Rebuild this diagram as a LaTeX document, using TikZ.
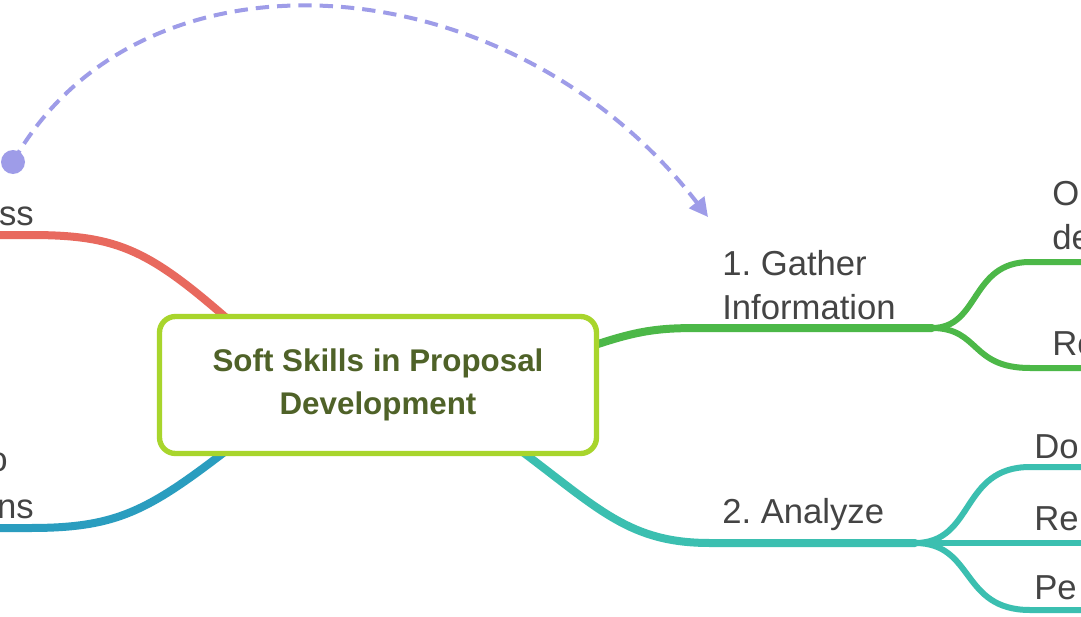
\documentclass[tikz,border=0pt]{standalone}
\usepackage{fontspec}
\setmainfont{Liberation Sans}
\usetikzlibrary{arrows.meta}
\frenchspacing
\definecolor{cred}{HTML}{E8695E}
\definecolor{cblue}{HTML}{2A9DBF}
\definecolor{cgreen}{HTML}{4CB848}
\definecolor{cteal}{HTML}{3BBFB0}
\definecolor{clime}{HTML}{A8D52C}
\definecolor{colive}{HTML}{4F6228}
\definecolor{cpurp}{HTML}{9E9CE8}
\definecolor{ctext}{HTML}{444444}
\tikzset{
 br/.style={line width=6pt, line cap=round},
 sbr/.style={line width=4.5pt, line cap=round},
 lbl/.style={font=\fontsize{26}{33}\selectfont, text=ctext, inner sep=0pt, align=left},
}
\begin{document}
\begin{tikzpicture}[x=0.75pt,y=-0.75pt]
\useasboundingbox (0,0) rectangle (1081,617);
\clip (0,0) rectangle (1081,617);
\fill[white] (0,0) rectangle (1081,617);
% left branches
\draw[br,cred] (-10,235) -- (30,235) .. controls (120,235) and (150,250) .. (240,330);
\draw[br,cblue] (-10,528) -- (30,528) .. controls (120,528) and (150,510) .. (240,440);
\node[lbl,anchor=south east] (l1) at (34,226) {ss};
\node[lbl,anchor=south east] (l2) at (34,519) {ns};
\node[lbl,anchor=south east] (l3) at (8,472) {o};
% green
\coordinate (gs) at (932,328);
\draw[br,cgreen] (595,345) .. controls (640,330) and (660,328) .. (700,328) -- (gs);
\draw[sbr,cgreen] (gs) .. controls (980,328) and (970,262) .. (1030,262) -- (1090,262);
\draw[sbr,cgreen] (gs) .. controls (980,328) and (970,368) .. (1030,368) -- (1090,368);
\node[lbl,anchor=south west] (g) at (722,320) {1. Gather\\Information};
\node[lbl,anchor=south west] (g1) at (1052,250) {O\\de};
\node[lbl,anchor=south west] (g2) at (1052,356) {Re};
% teal
\coordinate (ts) at (915,543);
\draw[br,cteal] (520,450) .. controls (600,510) and (630,543) .. (710,543) -- (ts);
\draw[sbr,cteal] (ts) .. controls (975,543) and (960,467) .. (1030,467) -- (1090,467);
\draw[sbr,cteal] (ts) -- (1090,543);
\draw[sbr,cteal] (ts) .. controls (975,543) and (960,610) .. (1030,610) -- (1090,610);
\node[lbl,anchor=south west] (t) at (722,531) {2. Analyze};
\node[lbl,anchor=south west] (t1) at (1034,459) {Do};
\node[lbl,anchor=south west] (t2) at (1034,531) {Re};
\node[lbl,anchor=south west] (t3) at (1034,600) {Pe};
% central
\node[draw=clime, line width=4pt, rounded corners=12pt, fill=white, minimum width=437pt*0.75, minimum height=137pt*0.75, align=center, text=colive, font=\bfseries\fontsize{23.5}{32}\selectfont] (c) at (378,385) {Soft Skills in Proposal\\Development};
% dashed relation
\coordinate (d0) at (13,162);
\fill[cpurp] (d0) circle (12pt*0.75);
\draw[cpurp, line width=3pt, dash pattern=on 10pt off 6pt, -{Triangle[length=14pt,width=14pt]}] (d0) .. controls (140,-65) and (510,-40) .. (708,217);
\end{tikzpicture}
\end{document}
